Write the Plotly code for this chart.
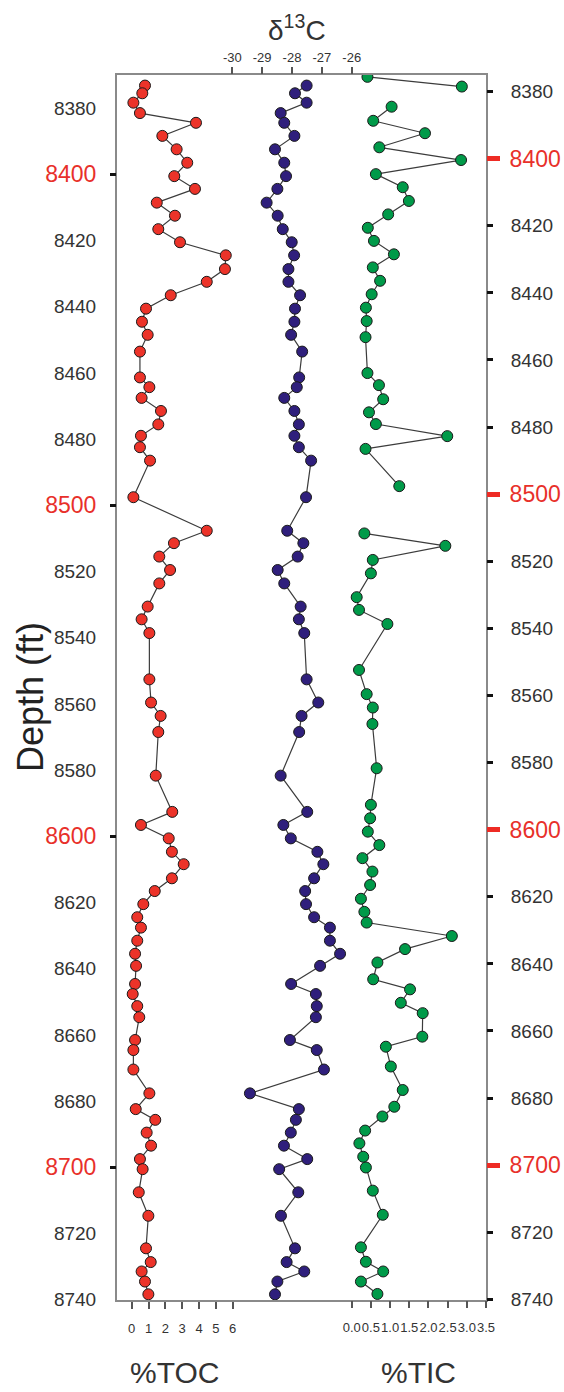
import plotly.graph_objects as go

# ---------------- data ----------------
depth_ft = [8378.2, 8380.5, 8383.3, 8386.4, 8389.3, 8393.2, 8397.2, 8401.2, 8405.2, 8409.0,
            8413.1, 8417.0, 8421.0, 8424.9, 8428.8, 8432.9, 8436.7, 8440.7, 8444.7, 8448.6,
            8452.5, 8457.5, 8465.2, 8468.1, 8471.3, 8475.2, 8479.2, 8482.6, 8486.0, 8490.0,
            8500.9, 8510.9, 8514.6, 8518.6, 8522.6, 8526.6, 8533.5, 8537.3, 8541.4, 8555.2,
            8562.1, 8566.1, 8570.9, 8583.9, 8594.7, 8598.6, 8602.6, 8606.6, 8610.3, 8614.5,
            8618.3, 8622.2, 8626.1, 8629.2, 8633.1, 8637.0, 8640.6, 8646.0, 8649.0, 8652.6,
            8655.9, 8662.7, 8665.7, 8671.5, 8678.6, 8683.3, 8686.5, 8690.3, 8694.2, 8698.2,
            8701.2, 8708.1, 8715.1, 8724.8, 8728.9, 8731.7, 8734.7, 8738.5]

toc_pct = [0.79, 0.63, 0.10, 0.49, 3.82, 1.82, 2.67, 3.30, 2.53, 3.76,
           1.49, 2.57, 1.58, 2.87, 5.59, 5.54, 4.46, 2.32, 0.85, 0.61,
           0.95, 0.49, 0.49, 1.05, 0.59, 1.74, 1.58, 0.55, 0.49, 1.09,
           0.10, 4.46, 2.51, 1.64, 2.28, 1.64, 0.95, 0.59, 1.05, 1.05,
           1.15, 1.72, 1.58, 1.43, 2.41, 0.55, 2.20, 2.39, 3.09, 2.39,
           1.37, 0.69, 0.33, 0.55, 0.33, 0.20, 0.26, 0.20, 0.06, 0.33,
           0.45, 0.20, 0.10, 0.10, 1.05, 0.24, 1.40, 0.89, 1.15, 0.49,
           0.65, 0.42, 0.99, 0.85, 1.13, 0.59, 0.79, 0.99]

d13c = [-27.51, -27.90, -27.51, -28.38, -28.26, -27.92, -28.57, -28.26, -28.20, -28.49,
        -28.85, -28.48, -28.31, -28.01, -27.93, -28.12, -28.12, -27.73, -27.90, -27.92,
        -28.03, -27.66, -27.76, -27.84, -28.26, -27.92, -27.77, -27.92, -27.77, -27.36,
        -27.53, -28.16, -27.62, -27.81, -28.48, -28.26, -27.71, -27.77, -27.59, -27.51,
        -27.12, -27.68, -27.76, -28.38, -27.49, -28.29, -28.04, -27.15, -26.95, -27.26,
        -27.56, -27.53, -27.26, -26.73, -26.73, -26.39, -27.06, -28.03, -27.20, -27.17,
        -27.20, -28.07, -27.17, -26.93, -29.41, -27.77, -27.87, -28.04, -28.27, -27.49,
        -28.43, -27.79, -28.37, -27.90, -28.18, -27.59, -28.49, -28.57]

# TIC sampled at its own depths; None marks breaks in the curve
tic_depth_ft = [8375.6, 8378.5, None,
                8384.5, 8388.7, 8392.4, 8396.6, 8400.4, 8404.6, 8408.5, 8412.6, 8416.6, 8420.6,
                8424.5, 8428.5, 8432.4, 8436.4, 8440.4, 8444.4, 8448.4, 8453.2, 8463.9, 8467.5,
                8471.7, 8475.6, 8479.1, 8482.7, 8486.5, 8497.6, None,
                8511.7, 8515.4, 8519.6, 8523.6, 8530.7, 8534.5, 8538.7, 8552.4, 8559.6, 8563.6,
                8568.5, 8581.7, 8592.6, 8596.6, 8600.6, 8604.6, 8608.5, 8612.5, 8616.5, 8620.6,
                8624.5, 8627.7, 8631.7, 8635.6, 8639.6, 8644.6, 8647.6, 8651.6, 8654.7, 8661.7,
                8664.7, 8670.6, 8677.6, 8682.6, 8685.5, 8689.7, 8693.5, 8697.5, 8700.7, 8707.6,
                8714.8, 8724.5, 8728.8, 8731.7, 8734.7, 8738.4]

tic_pct = [0.41, 2.87, None,
           1.04, 0.56, 1.91, 0.72, 2.85, 0.63, 1.33, 1.49, 0.95, 0.42,
           0.58, 1.10, 0.55, 0.74, 0.52, 0.37, 0.39, 0.36, 0.41, 0.71,
           0.82, 0.45, 0.63, 2.49, 0.36, 1.24, None,
           0.33, 2.44, 0.55, 0.50, 0.13, 0.19, 0.93, 0.19, 0.39, 0.55,
           0.54, 0.65, 0.50, 0.48, 0.42, 0.72, 0.28, 0.54, 0.48, 0.24,
           0.33, 0.39, 2.61, 1.39, 0.67, 0.56, 1.52, 1.28, 1.85, 1.84,
           0.89, 1.02, 1.33, 1.11, 0.80, 0.35, 0.20, 0.30, 0.37, 0.55,
           0.81, 0.24, 0.37, 0.82, 0.24, 0.67]

toc_ticks = [0, 1, 2, 3, 4, 5, 6]
d13c_ticks = [-30, -29, -28, -27, -26]
d13c_ticktext = ["-30", "-29", "-28", "-27", "-26"]
tic_ticks = [0.0, 0.5, 1.0, 1.5, 2.0, 2.5, 3.0, 3.5]
tic_ticktext = ["0.0", "0.5", "1.0", "1.5", "2.0", "2.5", "3.0", "3.5"]
depth_minor = [8380, 8420, 8440, 8460, 8480, 8520, 8540, 8560, 8580, 8620, 8640, 8660, 8680, 8720, 8740]
depth_major = [8400, 8500, 8600, 8700]

# ---------------- styling ----------------
FONT = "'Liberation Sans', Arial, sans-serif"
RED_TXT = "#e8302a"
LINE_C = "#3c3c3c"
FRAME_C = "#8a8a8a"

fig = go.Figure()

def series(x, y, xa, fill):
    return go.Scatter(
        x=x, y=y, xaxis=xa, yaxis="y2", mode="lines+markers",
        line=dict(color=LINE_C, width=1.2),
        marker=dict(size=11, color=fill, line=dict(color="#1a1a1a", width=1)),
        connectgaps=False, hoverinfo="skip",
    )

fig.add_trace(series(toc_pct, depth_ft, "x", "#ec3329"))
fig.add_trace(series(d13c, depth_ft, "x2", "#2f1f7c"))
fig.add_trace(series(tic_pct, tic_depth_ft, "x3", "#009a49"))

common_x = dict(showgrid=False, zeroline=False, ticks="outside", ticklen=7, tickwidth=1.5,
                tickcolor="#555555", tickangle=0, automargin=False,
                tickfont=dict(family=FONT, size=13, color="#333333"))
common_y = dict(showgrid=False, zeroline=False, automargin=False)

fig.update_layout(
    width=564, height=1392,
    margin=dict(l=117, r=78, t=75, b=92),
    plot_bgcolor="white", paper_bgcolor="white",
    showlegend=False,
    font=dict(family=FONT, color="#333333"),
    xaxis=dict(range=[-0.873, 21.05], tickvals=toc_ticks, showline=True, mirror=True,
               linecolor=FRAME_C, linewidth=2, ticklabelstandoff=8, **common_x),
    xaxis2=dict(range=[-33.863, -21.501], overlaying="x", side="top", anchor="y",
                tickvals=d13c_ticks, ticktext=d13c_ticktext, showline=False, **common_x),
    xaxis3=dict(range=[-6.117, 3.50], overlaying="x", side="bottom", anchor="y",
                tickvals=tic_ticks, ticktext=tic_ticktext, showline=False,
                ticklabelstandoff=8, **common_x),
    # left axis: black labels
    yaxis=dict(range=[8740.1, 8370.0], tickvals=depth_minor, ticks="", showline=True, mirror=True,
               linecolor=FRAME_C, linewidth=2,
               tickfont=dict(family=FONT, size=19, color="#333333"), ticklabelstandoff=15,
               **common_y),
    # left axis: red labels at hundreds
    yaxis4=dict(range=[8740.1, 8370.0], overlaying="y", side="left", anchor="x",
                tickvals=depth_major, ticks="outside", ticklen=6, tickwidth=3, tickcolor="#111111",
                showline=False, tickfont=dict(family=FONT, size=23, color=RED_TXT),
                ticklabelstandoff=9, **common_y),
    # right axis: black ticks and labels
    yaxis2=dict(range=[8740.2, 8375.05], overlaying="y", side="right", anchor="x",
                tickvals=depth_minor,
                ticks="outside", ticklen=6, tickwidth=3, tickcolor="#111111",
                showline=False, tickfont=dict(family=FONT, size=19, color="#333333"),
                ticklabelstandoff=14, **common_y),
    # right axis: red ticks and labels at hundreds
    yaxis3=dict(range=[8740.2, 8375.05], overlaying="y", side="right", anchor="x",
                tickvals=depth_major, ticks="outside", ticklen=13, tickwidth=5, tickcolor="#ee2b24",
                showline=False, tickfont=dict(family=FONT, size=23, color=RED_TXT),
                ticklabelstandoff=5, **common_y),
)

# invisible traces so the extra y axes render
fig.add_trace(go.Scatter(x=[None], y=[None], xaxis="x", yaxis="y", showlegend=False, hoverinfo="skip"))
fig.add_trace(go.Scatter(x=[None], y=[None], xaxis="x", yaxis="y3", showlegend=False, hoverinfo="skip"))
fig.add_trace(go.Scatter(x=[None], y=[None], xaxis="x", yaxis="y4", showlegend=False, hoverinfo="skip"))

def px_x(p):
    return (p - 117) / 369.0

def px_y(p):
    return (1300 - p) / 1225.0

annos = [
    dict(text="%TOC", x=px_x(174), y=px_y(1372), size=30),
    dict(text="%TIC", x=px_x(418), y=px_y(1372), size=30),
    dict(text="δ<sup>13</sup>C", x=px_x(297), y=px_y(28), size=28),
]
for a in annos:
    fig.add_annotation(text=a["text"], x=a["x"], y=a["y"], xref="paper", yref="paper",
                       showarrow=False, xanchor="center", yanchor="middle",
                       font=dict(family=FONT, size=a["size"], color="#333333"))

fig.add_annotation(text="Depth (ft)", x=px_x(30), y=px_y(697), xref="paper", yref="paper",
                   showarrow=False, xanchor="center", yanchor="middle", textangle=-90,
                   font=dict(family=FONT, size=36, color="#222222"))

fig.write_html("out.html")
